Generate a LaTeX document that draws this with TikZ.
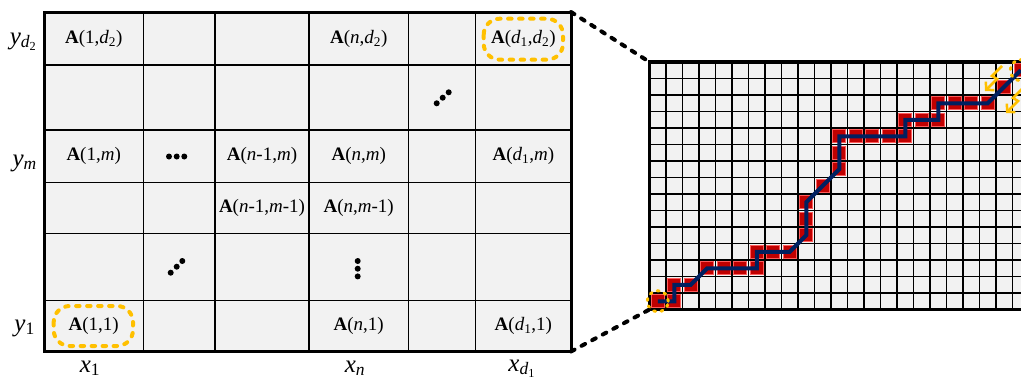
\documentclass[tikz,border=0pt]{standalone}
\usepackage{fontspec}
\setmainfont{Liberation Serif}
\usetikzlibrary{arrows.meta}
\definecolor{cellgray}{HTML}{F2F2F2}
\definecolor{gold}{HTML}{FFC000}
\definecolor{darkred}{HTML}{C00000}
\definecolor{lightred}{HTML}{FF5B5B}
\definecolor{navy}{HTML}{002060}
\tikzset{
  lbl/.style={font=\fontsize{19}{21}\selectfont, inner sep=0pt},
  axl/.style={font=\fontsize{25}{27}\selectfont, inner sep=0pt},
  thinline/.style={draw=black, line width=1.5pt},
  thickline/.style={draw=black, line width=3pt},
  gridline/.style={draw=black, line width=1.6pt},
  gridborder/.style={draw=black, line width=3.2pt},
  redcell/.style={fill=darkred, draw=lightred, line width=1pt},
  navypath/.style={draw=navy, line width=4pt},
  conn/.style={draw=black, line width=4pt, line cap=round, dash pattern=on 4pt off 8pt},
  goldbox/.style={draw=gold, line width=4pt, line cap=round, dash pattern=on 3.5pt off 7.5pt, rounded corners=16pt},
  goldcirc/.style={draw=gold, line width=3pt, line cap=round, dash pattern=on 2pt off 5.5pt},
  goldarrow/.style={draw=gold, line width=2.5pt, -{Straight Barb[length=5.5pt,width=12pt]}},
  dotfill/.style={fill=black}
}
\begin{document}
\begin{tikzpicture}[x=1pt,y=-1pt]
\useasboundingbox (0,0) rectangle (1021,380);
\clip (0,0) rectangle (1021,380);

% ---------- left table ----------
\fill[cellgray] (44,12) rectangle (571,351.5);
\foreach \x in {143.3,215,309,408.3,475.7} \draw[thinline] (\x,12) -- (\x,351.5);
\foreach \y in {65,130,182.7,233.3,300.7} \draw[thinline] (44,\y) -- (571,\y);
\draw[thickline] (44,12) rectangle (571,351.5);
\coordinate (tblTR) at (571,12);
\coordinate (tblBR) at (571,351.5);

% row 1
\node[lbl] (a1d2) at (93.7,39) {\textbf{A}(1,\textit{d}\textsubscript{2})};
\node[lbl] (and2) at (358.7,39) {\textbf{A}(\textit{n},\textit{d}\textsubscript{2})};
\node[lbl] (ad1d2) at (523.4,39) {\textbf{A}(\textit{d}\textsubscript{1},\textit{d}\textsubscript{2})};
% row 3
\node[lbl] (a1m) at (93.7,156.4) {\textbf{A}(1,\textit{m})};
\node[lbl] (an1m) at (262,156.4) {\textbf{A}(\textit{n}-1,\textit{m})};
\node[lbl] (anm) at (358.7,156.4) {\textbf{A}(\textit{n},\textit{m})};
\node[lbl] (ad1m) at (523.4,156.4) {\textbf{A}(\textit{d}\textsubscript{1},\textit{m})};
% row 4
\node[lbl] (an1m1) at (262,208) {\textbf{A}(\textit{n}-1,\textit{m}-1)};
\node[lbl] (anm1) at (358.7,208) {\textbf{A}(\textit{n},\textit{m}-1)};
% row 6
\node[lbl] (a11) at (93.7,326.1) {\textbf{A}(1,1)};
\node[lbl] (an1) at (358.7,326.1) {\textbf{A}(\textit{n},1)};
\node[lbl] (ad11) at (523.4,326.1) {\textbf{A}(\textit{d}\textsubscript{1},1)};

% dots
\foreach \p in {(169,156.5),(176.7,156.5),(184.3,156.5)} \fill[dotfill] \p circle (3pt);
\foreach \p in {(436.7,103.3),(442.7,97.7),(448.7,92.3)} \fill[dotfill] \p circle (3pt);
\foreach \p in {(170.7,272.7),(176.7,266.7),(182.3,261)} \fill[dotfill] \p circle (3pt);
\foreach \p in {(357.7,261),(357.7,268.7),(357.7,276.4)} \fill[dotfill] \p circle (3pt);

% highlighted cells
\draw[goldbox] (483.7,18.7) rectangle (563,59.7);
\draw[goldbox] (53.7,306) rectangle (133,346);

% axis labels
\node[axl, anchor=base east] (yd2) at (37,44) {\textit{y}\textsubscript{\textit{d}\textsubscript{2}}};
\node[axl, anchor=base east] (ym) at (37,166) {\textit{y}\textsubscript{\textit{m}}};
\node[axl, anchor=base east] (y1) at (35,331) {\textit{y}\textsubscript{1}};
\node[axl, anchor=base] (x1) at (90,372) {\textit{x}\textsubscript{1}};
\node[axl, anchor=base] (xn) at (355,372) {\textit{x}\textsubscript{\textit{n}}};
\node[axl, anchor=base] (xd1) at (522,371) {\textit{x}\textsubscript{\textit{d}\textsubscript{1}}};

% ---------- right grid ----------
\fill[cellgray] (649.5,62) rectangle (1035,309.5);
\foreach \k in {1,...,23} \draw[gridline] ({649.5+16.5*\k},62) -- ({649.5+16.5*\k},309.5);
\foreach \k in {1,...,14} \draw[gridline] (649.5,{309.5-16.5*\k}) -- (1035,{309.5-16.5*\k});
\draw[gridborder] (1035,62) -- (649.5,62) -- (649.5,309.5) -- (1035,309.5);
\coordinate (gridTL) at (649.5,62);
\coordinate (gridBL) at (649.5,309.5);

\foreach \c in {0,...,22} \foreach \r in {0,...,14}
  \coordinate (g-\c-\r) at ({649.5+16.5*(\c+0.5)},{309.5-16.5*(\r+0.5)});

\foreach \c/\r in {0/0,1/0,1/1,2/1,3/2,4/2,5/2,6/2,6/3,7/3,8/3,9/4,9/5,9/6,10/7,11/8,11/9,11/10,12/10,13/10,14/10,15/10,15/11,16/11,17/11,17/12,18/12,19/12,20/12,21/13,22/14}
  \draw[redcell] ({649.5+16.5*\c+1.9},{309.5-16.5*\r-1.9}) rectangle ++(12.7,-12.7);

\draw[navypath] (g-0-0) -- (g-1-0) -- (g-1-1) -- (g-2-1) -- (g-3-2) -- (g-6-2) -- (g-6-3) -- (g-8-3) -- (g-9-4) -- (g-9-6) -- (g-10-7) -- (g-11-8) -- (g-11-10) -- (g-15-10) -- (g-15-11) -- (g-17-11) -- (g-17-12) -- (g-20-12) -- (g-21-13) -- (g-22-14);

\draw[goldcirc] (g-0-0) circle (10.5pt);
\draw[goldcirc] (g-22-14) circle (10.5pt);

% lightning arrows
\coordinate (arA) at (1002,66);
\coordinate (arB) at (1023,88);
\draw[goldarrow] (arA) -- ++(-10,10) -- ++(5,3) -- ++(-12,12);
\draw[goldarrow] (arB) -- ++(-10,10) -- ++(5,3) -- ++(-12,12);

% zoom connectors
\draw[conn] (tblTR) -- (gridTL);
\draw[conn] (tblBR) -- (gridBL);
\end{tikzpicture}
\end{document}
